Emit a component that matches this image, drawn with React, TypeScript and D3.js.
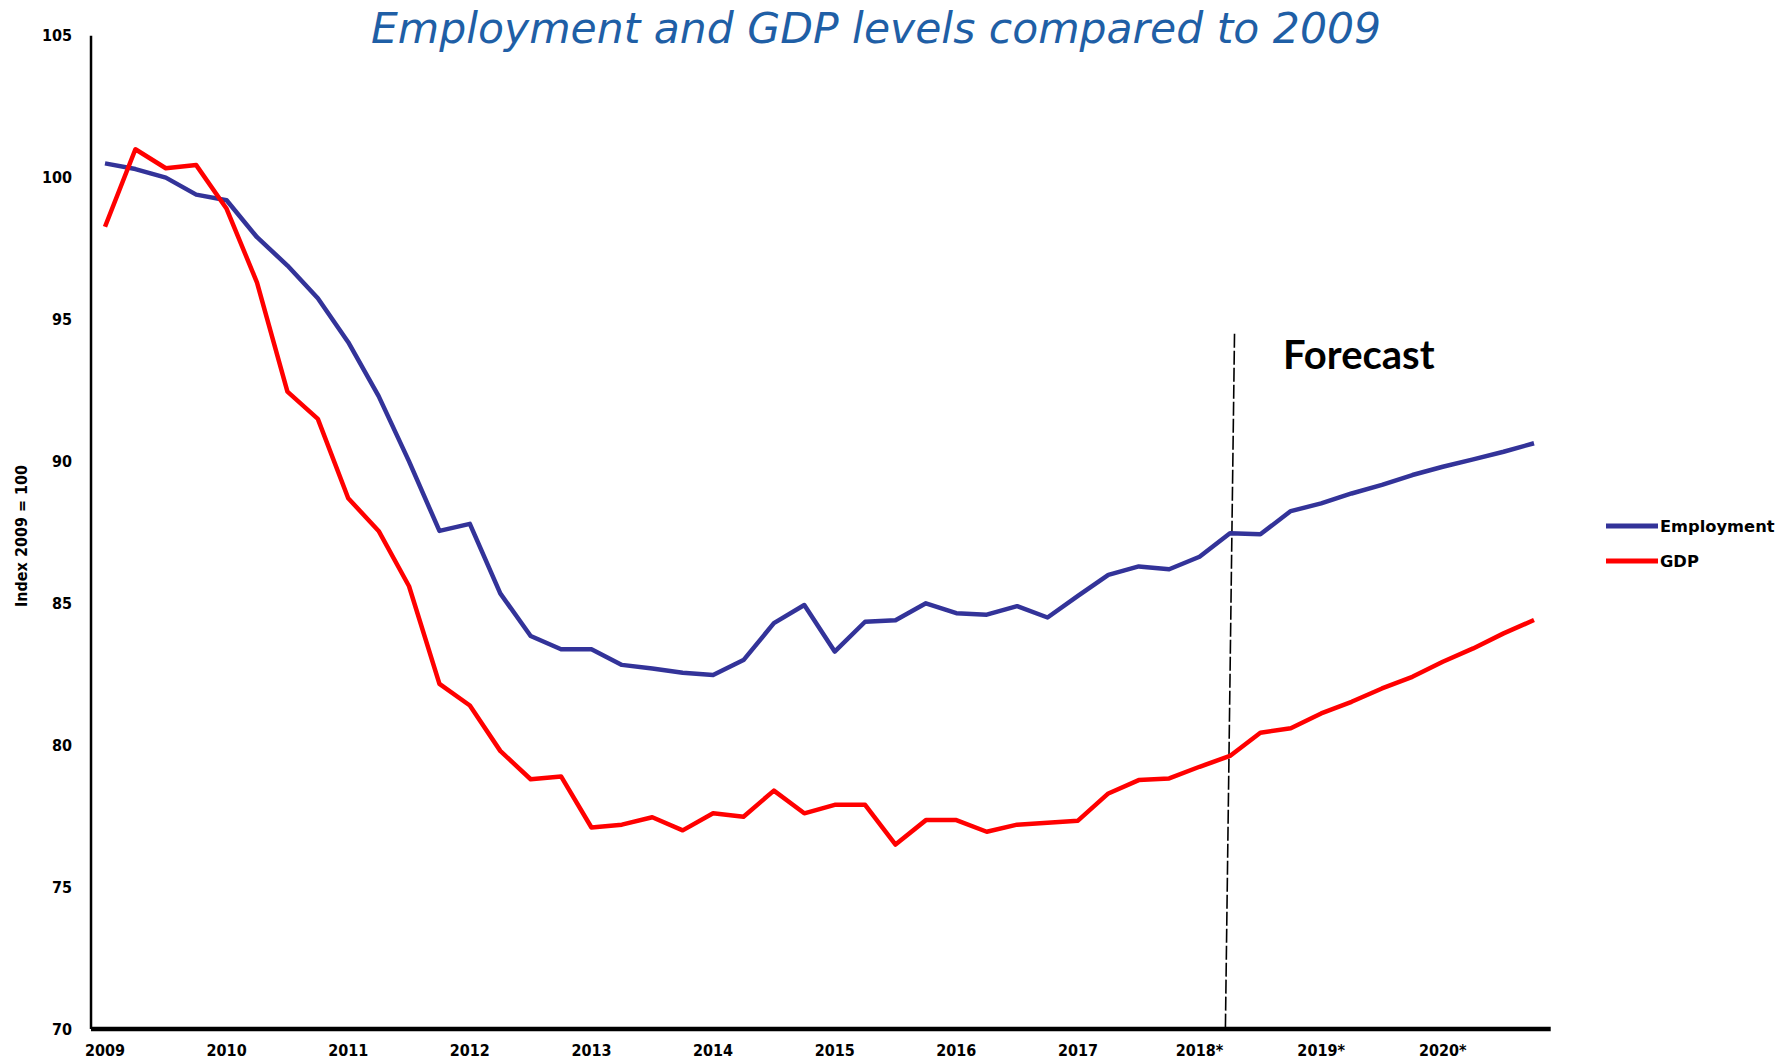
import React from "react";
import * as d3 from "d3";

const yearLabels = ["2009", "2010", "2011", "2012", "2013", "2014", "2015", "2016", "2017", "2018*", "2019*", "2020*"];

const employment = [
  100.5, 100.3, 100.0, 99.4, 99.2, 97.9, 96.9, 95.75, 94.2, 92.3, 90.0, 87.55,
  87.8, 85.35, 83.85, 83.38, 83.38, 82.83, 82.7, 82.55, 82.47, 83.0, 84.3, 84.94,
  83.3, 84.35, 84.4, 85.0, 84.65, 84.6, 84.9, 84.5, 85.26, 86.0, 86.3, 86.2,
  86.64, 87.47, 87.43, 88.25, 88.52, 88.87, 89.17, 89.52, 89.81, 90.07, 90.34, 90.64,
];

const gdp = [
  98.27, 101.0, 100.33, 100.44, 98.9, 96.3, 92.46, 91.5, 88.7, 87.55, 85.6, 82.16,
  81.4, 79.8, 78.8, 78.9, 77.1, 77.2, 77.46, 77.0, 77.6, 77.48, 78.4, 77.6,
  77.9, 77.9, 76.5, 77.36, 77.36, 76.95, 77.2, 77.27, 77.34, 78.3, 78.77, 78.83,
  79.24, 79.62, 80.44, 80.6, 81.12, 81.53, 82.0, 82.41, 82.94, 83.41, 83.94, 84.41,
];

const yTicks = [70, 75, 80, 85, 90, 95, 100, 105];

const seriesNames = ["Employment", "GDP"];
const seriesColors = ["#333399", "#ff0000"];

// forecast marker: [quarter index, value] at top and bottom
const forecastTop = [37.15, 94.5];
const forecastBottom = [36.85, 70];

export default function App() {
  const W = 1789;
  const H = 1059;
  const x = d3.scaleLinear().domain([0, 47]).range([105, 1534]);
  const y = d3.scaleLinear().domain([70, 105]).range([1029, 35.7]);
  const line = d3
    .line<number>()
    .x((_, i) => x(i))
    .y((d) => y(d));

  const axisLeftX = x(-0.46);
  const axisRightX = x(47.55);
  const tickFont = "'Liberation Sans Narrow', 'DejaVu Sans Condensed', sans-serif";

  return (
    <svg
      width={W}
      height={H}
      style={{ position: "absolute", left: 0, top: 0, background: "#fff" }}
    >
      <text
        x={876}
        y={43}
        textAnchor="middle"
        fontFamily="'DejaVu Sans', Verdana, sans-serif"
        fontStyle="italic"
        fontSize={42.5}
        fill="#1f5fa6"
      >
        Employment and GDP levels compared to 2009
      </text>

      {/* y axis */}
      <line x1={axisLeftX} x2={axisLeftX} y1={y(105)} y2={y(70)} stroke="#000" strokeWidth={2.5} />
      {yTicks.map((t) => (
        <text
          key={t}
          x={72}
          y={y(t)}
          textAnchor="end"
          dominantBaseline="central"
          fontFamily={tickFont}
          fontWeight="bold"
          fontSize={16}
          fill="#000"
        >
          {t}
        </text>
      ))}
      <text
        transform={`translate(21, 536) rotate(-90)`}
        textAnchor="middle"
        dominantBaseline="central"
        fontFamily={tickFont}
        fontWeight="bold"
        fontSize={16}
        fill="#000"
      >
        Index 2009 = 100
      </text>

      {/* x axis */}
      <line x1={axisLeftX} x2={axisRightX} y1={y(70)} y2={y(70)} stroke="#000" strokeWidth={4.5} />
      {yearLabels.map((lab, k) => (
        <text
          key={lab}
          x={x(k * 4)}
          y={1050}
          textAnchor="middle"
          dominantBaseline="central"
          fontFamily={tickFont}
          fontWeight="bold"
          fontSize={16}
          fill="#000"
        >
          {lab}
        </text>
      ))}

      {/* forecast marker */}
      <line
        x1={x(forecastTop[0])}
        y1={y(forecastTop[1])}
        x2={x(forecastBottom[0])}
        y2={y(forecastBottom[1])}
        stroke="#000"
        strokeWidth={1.6}
        strokeDasharray="14,3"
      />
      <text
        x={1283}
        y={369}
        fontFamily="Lato, 'Open Sans', sans-serif"
        fontWeight="bold"
        fontSize={40}
        fill="#000"
      >
        Forecast
      </text>

      {/* series */}
      {[employment, gdp].map((s, i) => (
        <path
          key={seriesNames[i]}
          d={line(s) || ""}
          fill="none"
          stroke={seriesColors[i]}
          strokeWidth={4.5}
          strokeLinejoin="round"
        />
      ))}

      {/* legend */}
      {seriesNames.map((n, i) => (
        <g key={n} transform={`translate(1606, ${526 + i * 35})`}>
          <line x1={0} x2={52} y1={0} y2={0} stroke={seriesColors[i]} strokeWidth={5} />
          <text
            x={54}
            y={0}
            dominantBaseline="central"
            fontFamily="'DejaVu Sans', sans-serif"
            fontWeight="bold"
            fontSize={16.3}
            fill="#000"
          >
            {n}
          </text>
        </g>
      ))}
    </svg>
  );
}
